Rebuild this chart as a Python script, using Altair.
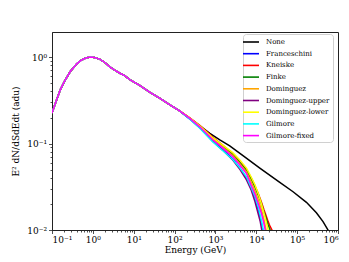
import altair as alt
import pandas as pd

# ---- data ----
series_names = ["None", "Franceschini", "Kneiske", "Finke", "Dominguez",
                "Dominguez-upper", "Dominguez-lower", "Gilmore", "Gilmore-fixed"]
series_colors = ["#000000", "#0000ff", "#ff0000", "#008000", "#ffa500",
                 "#800080", "#ffff00", "#00ffff", "#ff00ff"]

# shared low-energy part (identical for all models)
common_E = [0.1, 0.13, 0.16, 0.2, 0.28, 0.4, 0.5, 0.65, 0.85, 1.1, 1.5, 2.0,
            2.6, 3.5, 4.6, 6.0, 8.0, 14, 25, 45, 77, 130]
common_y = [0.225, 0.32, 0.42, 0.52, 0.68, 0.83, 0.91, 0.97, 1.0, 0.99, 0.94,
            0.86, 0.77, 0.70, 0.65, 0.61, 0.55, 0.47, 0.39, 0.33, 0.28, 0.24]

none_E = [237, 417, 730, 1280, 2240, 5000, 12200, 37600, 79400, 168700, 296000, 430000, 570000, 620000]
none_y = [0.195, 0.160, 0.131, 0.110, 0.094, 0.071, 0.052, 0.0355, 0.0277, 0.0209, 0.0158, 0.0125, 0.0100, 0.009]

franceschini_E = [237, 420, 870, 1500, 2690, 4000, 5760, 7500, 9100, 11300, 12500, 13600, 14400, 15000]
franceschini_y = [0.192, 0.151, 0.106, 0.085, 0.066, 0.052, 0.040, 0.030, 0.024, 0.017, 0.0135, 0.0115, 0.0100, 0.009]

kneiske_E = [237, 420, 870, 1500, 2690, 4000, 5760, 7500, 9100, 11300, 13400, 15500, 17500, 19500, 21800, 24200, 25500]
kneiske_y = [0.198, 0.161, 0.118, 0.096, 0.076, 0.061, 0.050, 0.040, 0.033, 0.026, 0.021, 0.017, 0.0145, 0.0125, 0.0110, 0.0100, 0.009]

finke_E = [237, 420, 870, 1500, 2690, 4000, 5760, 7500, 9100, 11300, 13400, 15500, 17500, 19500, 21800, 23000]
finke_y = [0.196, 0.158, 0.114, 0.093, 0.074, 0.060, 0.049, 0.039, 0.032, 0.025, 0.020, 0.016, 0.0135, 0.0115, 0.0100, 0.009]

dominguez_E = [237, 420, 870, 1500, 2690, 4000, 5760, 7500, 9100, 11300, 13400, 15500, 17300, 18000]
dominguez_y = [0.196, 0.157, 0.112, 0.091, 0.072, 0.058, 0.047, 0.036, 0.029, 0.022, 0.0170, 0.0130, 0.0100, 0.009]

dom_upper_E = [237, 420, 870, 1500, 2690, 4000, 5760, 7500, 9100, 11300, 12500, 13600, 14200]
dom_upper_y = [0.193, 0.152, 0.106, 0.084, 0.064, 0.050, 0.038, 0.029, 0.022, 0.015, 0.0125, 0.0100, 0.009]

dom_lower_E = [237, 420, 870, 1500, 2690, 4000, 5760, 7500, 9100, 11300, 13400, 15500, 17500, 19500, 20500]
dom_lower_y = [0.197, 0.159, 0.116, 0.096, 0.078, 0.064, 0.052, 0.041, 0.034, 0.026, 0.020, 0.0155, 0.0125, 0.0100, 0.009]

gilmore_E = [237, 420, 870, 1500, 2690, 4000, 5760, 7500, 9100, 11300, 13400, 14800, 15500]
gilmore_y = [0.191, 0.149, 0.104, 0.083, 0.065, 0.052, 0.041, 0.031, 0.025, 0.018, 0.0128, 0.0100, 0.009]

gilmore_fixed_E = [237, 420, 870, 1500, 2690, 4000, 5760, 7500, 9100, 11300, 13400, 15000, 16300, 17000]
gilmore_fixed_y = [0.195, 0.155, 0.110, 0.089, 0.070, 0.056, 0.045, 0.033, 0.0266, 0.0199, 0.0155, 0.0125, 0.0104, 0.009]

tails = [(none_E, none_y), (franceschini_E, franceschini_y), (kneiske_E, kneiske_y),
         (finke_E, finke_y), (dominguez_E, dominguez_y), (dom_upper_E, dom_upper_y),
         (dom_lower_E, dom_lower_y), (gilmore_E, gilmore_y), (gilmore_fixed_E, gilmore_fixed_y)]

x_decades = [0.1, 1, 10, 100, 1000, 10000, 100000, 1000000]
x_tick_labels = ["10⁻¹", "10⁰", "10¹", "10²", "10³", "10⁴", "10⁵", "10⁶"]
y_decades = [0.01, 0.1, 1]
y_tick_labels = ["10⁻²", "10⁻¹", "10⁰"]

# ---- build table ----
rows = []
for name, (tE, ty) in zip(series_names, tails):
    for i, (e, v) in enumerate(zip(common_E + tE, common_y + ty)):
        rows.append({"model": name, "E": e, "flux": v, "i": i})
df = pd.DataFrame(rows)

def minor_values(decades):
    vals = []
    for d in decades:
        vals.append(d)
        for m in range(2, 10):
            vals.append(d * m)
    return vals

x_vals = [v for v in minor_values(x_decades) if v <= 1e6 * 1.0001]
y_vals = [v for v in minor_values(y_decades) if v <= 1.95]

def label_expr(decades, labels):
    expr = "''"
    for d, lab in reversed(list(zip(decades, labels))):
        expr = f"abs(datum.value - {d}) < {d}*1e-6 ? '{lab}' : ({expr})"
    return expr

is_major = "abs(log(datum.value)/LN10 - round(log(datum.value)/LN10)) < 0.001"

FONT = "DejaVu Serif"
color_scale = alt.Scale(domain=series_names, range=series_colors)

legend = alt.Legend(
    title=None, orient="none", legendX=191, legendY=2,
    fillColor="white", strokeColor="#d0d0d0", cornerRadius=3, padding=3,
    symbolType="M-2,0L2,0", symbolSize=64, symbolStrokeWidth=1.6,
    labelFont=FONT, labelFontSize=7, labelColor="#000", labelOffset=10,
    rowPadding=2.7, labelLimit=200,
)

layers = []
for name in series_names:
    layers.append(
        alt.Chart(df[df["model"] == name]).mark_line(strokeWidth=1.5, clip=True).encode(
            x=alt.X("E:Q", scale=alt.Scale(type="log", domain=[0.1, 1e6], nice=False),
                    axis=alt.Axis(values=x_vals, labelExpr=label_expr(x_decades, x_tick_labels),
                                  tickSize={"condition": {"test": is_major, "value": 3.5}, "value": 2},
                                  title="Energy (GeV)", grid=False)),
            y=alt.Y("flux:Q", scale=alt.Scale(type="log", domain=[0.01, 1.95], nice=False),
                    axis=alt.Axis(values=y_vals, labelExpr=label_expr(y_decades, y_tick_labels),
                                  tickSize={"condition": {"test": is_major, "value": 3.5}, "value": 2},
                                  title="E² dN/dSdEdt (adu)", grid=False)),
            color=alt.Color("model:N", scale=color_scale, legend=legend),
            order="i:Q",
        )
    )

chart = alt.layer(*layers).properties(
    width=286, height=198,
    autosize=alt.AutoSizeParams(type="none"),
    padding={"left": 44, "top": 24, "right": 3, "bottom": 30},
).configure_view(
    stroke="#222", strokeWidth=1
).configure_axis(
    labelFont=FONT, labelFontSize=9, labelColor="#000",
    titleFont=FONT, titleFontSize=9, titleFontWeight="normal", titleColor="#000",
    domainColor="#222", tickColor="#222", tickWidth=0.8, labelPadding=2,
).configure_axisY(titlePadding=6).configure_axisX(titlePadding=1)

chart.save("out.html", embed_options={"renderer": "svg", "actions": False})
